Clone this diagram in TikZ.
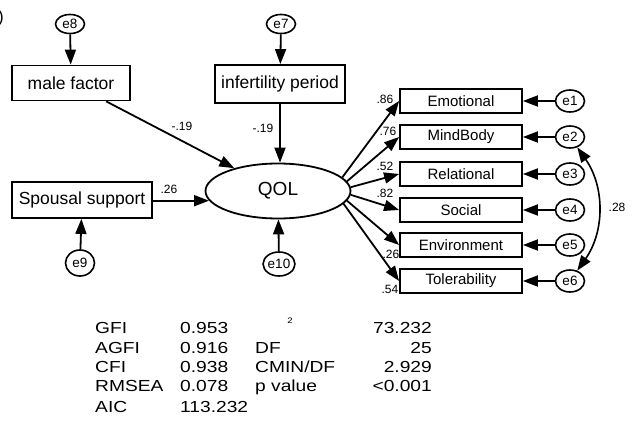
\documentclass[tikz,border=0pt]{standalone}
\usepackage{fontspec}
\setmainfont{Liberation Sans}
\newfontfamily\statfont[FakeStretch=1.2]{Liberation Sans}
\usetikzlibrary{positioning,arrows.meta,shapes.geometric}

\begin{document}
\begin{tikzpicture}[x=1pt,y=-1pt,>={Triangle[length=15pt,width=11pt]},
  lat/.style={draw,line width=1.8pt,minimum width=118pt,minimum height=35pt,inner sep=0pt,font=\fontsize{17.5}{17.5}\selectfont},
  ind/.style={draw,line width=1.8pt,minimum width=122pt,minimum height=24pt,inner sep=0pt,font=\fontsize{15}{15}\selectfont},
  err/.style={draw,ellipse,line width=1.6pt,minimum width=29pt,minimum height=22pt,inner sep=0pt,font=\fontsize{13.5}{13.5}\selectfont},
  arr/.style={line width=1.8pt,->},
  coef/.style={inner sep=0pt,font=\fontsize{12}{12}\selectfont},
  stat/.style={inner sep=0pt,font=\statfont\fontsize{16}{16}\selectfont}]
  \useasboundingbox (0,0) rectangle (632,425);
  \node[anchor=east,inner sep=0pt,font=\fontsize{17}{17}\selectfont] (tag) at (4,18) {)};

  % exogenous side
  \node[lat] (male) at (71,83) {male factor};
  \node[lat,minimum width=130pt,minimum height=38pt] (period) at (280,84) {infertility period};
  \node[lat,minimum width=140pt,minimum height=36pt] (spouse) at (82,200) {Spousal support};
  \node[err,minimum height=19pt] (e8) at (70,24) {e8};
  \node[err,minimum height=19pt] (e7) at (281,24) {e7};
  \node[err,minimum height=26pt] (e9) at (80,263) {e9};
  \node[draw,ellipse,line width=1.8pt,minimum width=145pt,minimum height=55pt,font=\fontsize{19}{19}\selectfont] (qol) at (278,191) {QOL};
  \node[err,minimum height=24pt] (e10) at (279,264) {e10};

  \draw[arr] (e8) -- (male);
  \draw[arr] (e7) -- (period);
  \draw[arr] (e9) -- (spouse);
  \draw[arr] (e10) -- (qol);
  \draw[arr] (male) -- (qol);
  \draw[arr] (period.south) -- (period.south |- qol.north);
  \draw[arr] (spouse.east |- qol.188) -- (qol.188);
  \node[coef] (cmale) at (182,126) {-.19};
  \node[coef] (cperiod) at (263,128) {-.19};
  \node[coef] (cspouse) at (169,189) {.26};

  % indicators
  \node[ind] (emo) at (461,101) {Emotional};
  \node[ind] (mind) at (461,137) {MindBody};
  \node[ind] (rel) at (461,174) {Relational};
  \node[ind] (soc) at (461,210) {Social};
  \node[ind] (env) at (461,245) {Environment};
  \node[ind] (tol) at (461,281) {Tolerability};
  \node[err] (e1) at (570,101) {e1};
  \node[err] (e2) at (570,137) {e2};
  \node[err] (e3) at (570,174) {e3};
  \node[err] (e4) at (570,210) {e4};
  \node[err] (e5) at (570,245) {e5};
  \node[err] (e6) at (570,281) {e6};

  \draw[arr] (qol.12) -- (emo.west);
  \draw[arr] (qol.8) -- (mind.west);
  \draw[arr] (qol.3) -- (rel.west);
  \draw[arr] (qol.-3) -- (soc.west);
  \draw[arr] (qol.-8) -- (env.west);
  \draw[arr] (qol.-11) -- (tol.west);
  \draw[arr] (e1) -- (emo);
  \draw[arr] (e2) -- (mind);
  \draw[arr] (e3) -- (rel);
  \draw[arr] (e4) -- (soc);
  \draw[arr] (e5) -- (env);
  \draw[arr] (e6) -- (tol);
  \draw[line width=1.6pt,<->] (e2) to[bend left=35] (e6);

  \node[coef] (l1) at (385,99) {.86};
  \node[coef] (l2) at (388,131) {.76};
  \node[coef] (l3) at (385,166) {.52};
  \node[coef] (l4) at (385,193) {.82};
  \node[coef] (l5) at (391,254) {.26};
  \node[coef] (l6) at (390,289) {.54};
  \node[coef] (cov) at (617,207) {.28};

  % fit indices
  \node[stat,anchor=base west] (gfi) at (95,333) {GFI};
  \node[stat,anchor=base west] (agfi) at (95,353) {AGFI};
  \node[stat,anchor=base west] (cfi) at (95,372) {CFI};
  \node[stat,anchor=base west] (rmsea) at (95,391) {RMSEA};
  \node[stat,anchor=base west] (aic) at (95,412) {AIC};
  \node[stat,anchor=base west] (vgfi) at (180,333) {0.953};
  \node[stat,anchor=base west] (vagfi) at (180,353) {0.916};
  \node[stat,anchor=base west] (vcfi) at (180,372) {0.938};
  \node[stat,anchor=base west] (vrmsea) at (180,391) {0.078};
  \node[stat,anchor=base west] (vaic) at (180,412) {113.232};
  \node[inner sep=0pt,font=\statfont\fontsize{8}{8}\selectfont] (chi) at (290,321) {2};
  \node[stat,anchor=base west] (df) at (255,353) {DF};
  \node[stat,anchor=base west] (cmin) at (255,372) {CMIN/DF};
  \node[stat,anchor=base west] (pval) at (255,391) {p value};
  \node[stat,anchor=base east] (vchi) at (432,333) {73.232};
  \node[stat,anchor=base east] (vdf) at (432,353) {25};
  \node[stat,anchor=base east] (vcmin) at (432,372) {2.929};
  \node[stat,anchor=base east] (vp) at (432,391) {<0.001};
\end{tikzpicture}
\end{document}
